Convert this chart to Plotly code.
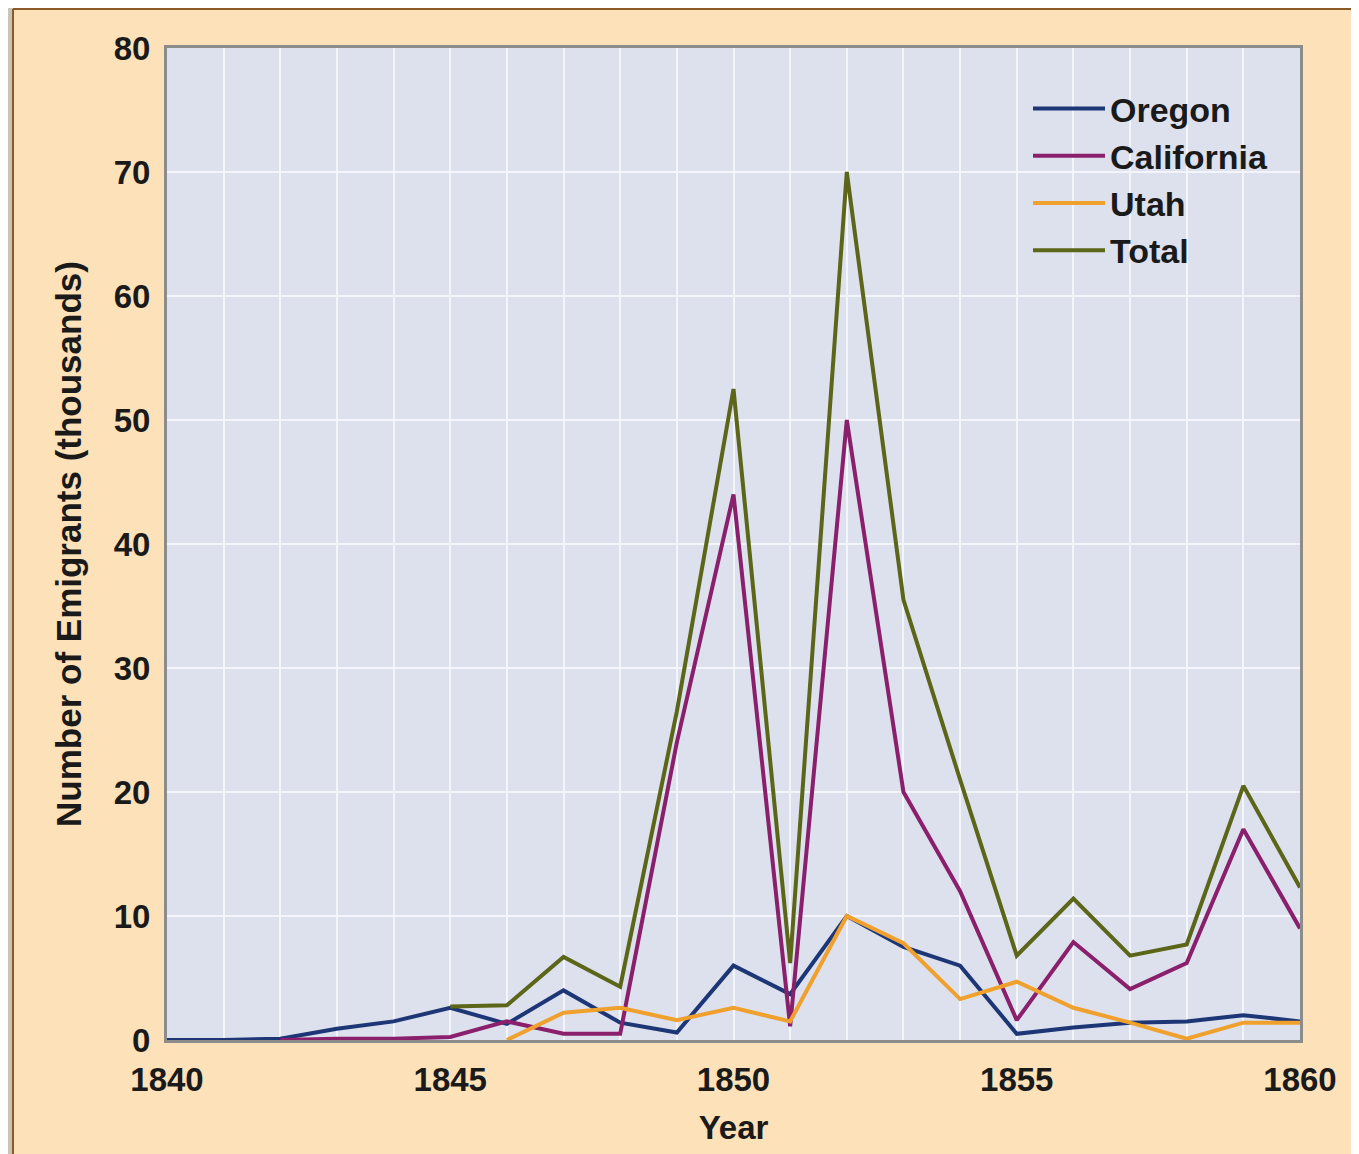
import plotly.graph_objects as go

oregon_years = list(range(1840, 1861))
oregon = [0, 0, 0.1, 0.9, 1.5, 2.6, 1.3, 4.0, 1.4, 0.6, 6.0, 3.7, 10.0, 7.5, 6.0, 0.5, 1.0, 1.4, 1.5, 2.0, 1.5]

california_years = list(range(1842, 1861))
california = [0, 0.1, 0.1, 0.25, 1.5, 0.5, 0.5, 24.0, 44.0, 1.1, 50.0, 20.0, 12.0, 1.6, 7.9, 4.1, 6.2, 17.0, 9.0]

utah_years = list(range(1846, 1861))
utah = [0, 2.2, 2.6, 1.6, 2.6, 1.5, 10.0, 7.8, 3.3, 4.7, 2.6, 1.4, 0.1, 1.4, 1.4]

total_years = list(range(1845, 1861))
total = [2.7, 2.8, 6.7, 4.3, 26.5, 52.5, 6.2, 70.0, 35.5, 21.0, 6.8, 11.4, 6.8, 7.7, 20.5, 12.3]

x_ticks = [1840, 1845, 1850, 1855, 1860]
y_ticks = [0, 10, 20, 30, 40, 50, 60, 70, 80]

FONT = "Liberation Sans"
TXT = "#1a1a1a"

fig = go.Figure()
series = [
    ("Oregon", oregon_years, oregon, "#1d3676"),
    ("California", california_years, california, "#8a1f6c"),
    ("Utah", utah_years, utah, "#f0a02c"),
    ("Total", total_years, total, "#5b6619"),
]
for name, xs, ys, col in series:
    fig.add_trace(go.Scatter(x=xs, y=ys, mode="lines", name=f"<b>{name}</b>",
                             line=dict(color=col, width=4)))

# the page body adds an 8px offset; work in absolute page pixels
OFF = 8
W, H = 1359 - OFF, 1154 - OFF
PL, PR, PT, PB = 167, 1300, 48, 1040  # plot area in absolute pixels
ml, mt = PL - OFF, PT - OFF
mr = W - (PR - OFF)
mb = H - (PB - OFF)
pw, ph = PR - PL, PB - PT

def px_x(p):
    return (p - PL) / pw

def px_y(p):
    return (PB - p) / ph

shapes = [
    dict(type="rect", xref="paper", yref="paper", x0=px_x(0), x1=px_x(13),
         y0=px_y(1160), y1=px_y(0), fillcolor="#c9c3b8", line=dict(width=0), layer="below"),
    dict(type="line", xref="paper", yref="paper", x0=px_x(13), x1=px_x(13),
         y0=px_y(1160), y1=px_y(9), line=dict(color="#8b5a2b", width=2)),
    dict(type="line", xref="paper", yref="paper", x0=px_x(13), x1=px_x(1365),
         y0=px_y(9), y1=px_y(9), line=dict(color="#8b5a2b", width=2)),
]

fig.update_layout(
    width=W, height=H,
    margin=dict(l=ml, r=mr, t=mt, b=mb, autoexpand=False),
    paper_bgcolor="#fde1b9",
    plot_bgcolor="#dde1ee",
    font=dict(family=FONT, color=TXT),
    shapes=shapes,
    showlegend=True,
    legend=dict(
        x=px_x(1028), y=px_y(80), xanchor="left", yanchor="top",
        bgcolor="rgba(0,0,0,0)", borderwidth=0,
        font=dict(family=FONT, size=34, color=TXT),
        itemwidth=72, tracegroupgap=0,
    ),
    xaxis=dict(
        range=[1840, 1860],
        tickmode="array", tickvals=x_ticks, ticktext=[f"<b>{t}</b>" for t in x_ticks],
        tickfont=dict(family=FONT, size=33, color=TXT),
        showgrid=True, gridcolor="#f4f5fa", gridwidth=2,
        minor=dict(dtick=1, tick0=1840, showgrid=True, gridcolor="#f4f5fa", gridwidth=2),
        showline=True, linecolor="#8c8c8c", linewidth=3, mirror=True,
        ticks="", zeroline=False, ticklabelstandoff=8,
        title=dict(text="<b>Year</b>", font=dict(family=FONT, size=33, color=TXT), standoff=20),
    ),
    yaxis=dict(
        range=[0, 80],
        tickmode="array", tickvals=y_ticks, ticktext=[f"<b>{t}</b>" for t in y_ticks],
        tickfont=dict(family=FONT, size=33, color=TXT),
        showgrid=True, gridcolor="#f4f5fa", gridwidth=2,
        showline=True, linecolor="#8c8c8c", linewidth=3, mirror=True,
        ticks="", zeroline=False, ticklabelstandoff=7,
        title=dict(text="<b>Number of Emigrants (thousands)</b>",
                   font=dict(family=FONT, size=35, color=TXT), standoff=22),
    ),
)

fig.write_html("out.html")
